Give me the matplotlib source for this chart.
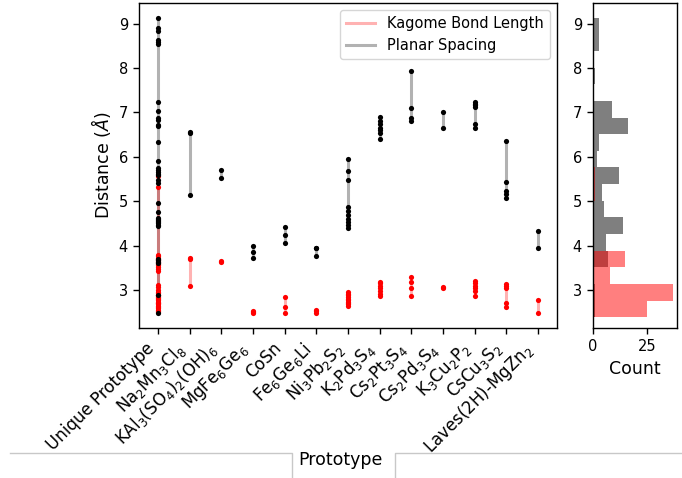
import matplotlib
matplotlib.use("Agg")
import matplotlib.pyplot as plt
from matplotlib.lines import Line2D
import numpy as np

plt.rcParams['font.size'] = 12.5
plt.rcParams['xtick.labelsize'] = 10.5
plt.rcParams['ytick.labelsize'] = 10.5

prototypes = ['Unique Prototype', r'Na$_2$Mn$_3$Cl$_8$', r'KAl$_3$(SO$_4$)$_2$(OH)$_6$',
              r'MgFe$_6$Ge$_6$', 'CoSn', r'Fe$_6$Ge$_6$Li', r'Ni$_3$Pb$_2$S$_2$',
              r'K$_2$Pd$_3$S$_4$', r'Cs$_2$Pt$_3$S$_4$', r'Cs$_2$Pd$_3$S$_4$',
              r'K$_3$Cu$_2$P$_2$', r'CsCu$_3$S$_2$', r'Laves(2H)-MgZn$_2$']

# kagome bond length per structure, grouped by prototype [A]
kagome_bond = [
    [2.50, 2.53, 2.56, 2.59, 2.62, 2.65, 2.68, 2.70, 2.72, 2.74, 2.78, 2.80, 2.82,
     2.84, 2.86, 2.88, 2.90, 2.93, 2.96, 3.00, 3.06, 3.12, 3.42, 3.47, 3.53, 3.56,
     3.59, 3.62, 3.64, 3.66, 3.68, 3.70, 3.73, 3.76, 3.80, 5.31, 5.57],
    [3.72, 3.71, 3.10],
    [3.65, 3.63],
    [2.53, 2.50, 2.48],
    [2.84, 2.63, 2.49],
    [2.56, 2.52, 2.49],
    [2.95, 2.92, 2.88, 2.85, 2.81, 2.78, 2.74, 2.71, 2.68, 2.65],
    [3.19, 3.15, 3.10, 3.05, 2.98, 2.92, 2.87],
    [3.30, 3.19, 3.05, 2.87],
    [3.07, 3.05],
    [3.21, 3.16, 3.10, 3.04, 2.98, 2.87],
    [3.13, 3.10, 3.05, 2.72, 2.61],
    [2.78, 2.48],
]

# planar spacing per structure, grouped by prototype [A]
planar_spacing = [
    [9.13, 8.89, 8.83, 8.62, 8.58, 8.54, 7.24, 7.04, 6.87, 6.83, 6.72, 6.69, 6.33,
     5.91, 5.74, 5.70, 5.66, 5.62, 5.58, 5.48, 5.40, 4.96, 4.75, 4.62, 4.60, 4.58,
     4.56, 4.54, 4.52, 4.47, 4.44, 3.70, 3.67, 3.64, 3.62, 2.88, 2.48],
    [6.57, 6.53, 5.14],
    [5.70, 5.53],
    [4.00, 3.85, 3.73],
    [4.42, 4.25, 4.05],
    [3.95, 3.94, 3.76],
    [5.96, 5.68, 5.48, 4.86, 4.77, 4.69, 4.61, 4.53, 4.46, 4.39],
    [6.90, 6.80, 6.74, 6.66, 6.60, 6.53, 6.41],
    [7.94, 7.09, 6.87, 6.80],
    [7.02, 6.66],
    [7.24, 7.20, 7.16, 7.12, 6.75, 6.64],
    [6.36, 5.44, 5.22, 5.17, 5.08],
    [4.33, 3.94],
]

hist_bins = np.linspace(2.39, 9.13, 19)

W, H = 682, 478
fig = plt.figure(figsize=(W/100, H/100), dpi=100)
ax = fig.add_axes([139/W, 1 - 328/H, 418/W, 325/H])
axh = fig.add_axes([593/W, 1 - 328/H, 84/W, 325/H])

for i, (kb, ps) in enumerate(zip(kagome_bond, planar_spacing)):
    ax.plot([i, i], [min(kb), max(kb)], color='red', alpha=0.3, lw=2.2, zorder=1.2,
            label='Kagome Bond Length' if i == 0 else None)
    ax.plot([i, i], [min(ps), max(ps)], color='gray', alpha=0.6, lw=2.2, zorder=1.1,
            label='Planar Spacing' if i == 0 else None)
    ax.scatter([i]*len(kb), kb, color='red', s=14, lw=0, zorder=2)
    ax.scatter([i]*len(ps), ps, color='black', s=14, lw=0, zorder=3)

ax.set_xticks(range(len(prototypes)))
ax.set_xticklabels(prototypes, rotation=45, ha='right', fontsize=12)
ax.set_ylabel(r'Distance ($\AA$)')
ax.set_xlabel('Prototype', va='center')
ax.xaxis.set_label_coords((340 - 139)/418, (328 - 460)/325)
ax.legend(loc='upper right', fontsize=10.5)

all_kb = np.concatenate(kagome_bond)
all_ps = np.concatenate(planar_spacing)
axh.hist(all_ps, bins=hist_bins, orientation='horizontal', color='black', alpha=0.5)
axh.hist(all_kb, bins=hist_bins, orientation='horizontal', color='red', alpha=0.5)
axh.set_ylim(ax.get_ylim())
axh.set_xticks([0, 25])
axh.set_xlabel('Count')

for a in (ax, axh):
    a.tick_params(length=4.5, width=1)
    for s in a.spines.values():
        s.set_linewidth(1)

# frame lines around the label strip at the bottom
deco = dict(color='#c8c8c8', lw=1, transform=fig.transFigure)
fig.add_artist(Line2D(np.array([10, 292, 292])/W, 1 - np.array([453, 453, 478])/H, **deco))
fig.add_artist(Line2D(np.array([395, 395, 682])/W, 1 - np.array([478, 453, 453])/H, **deco))

fig.savefig('out.png', dpi=100)
